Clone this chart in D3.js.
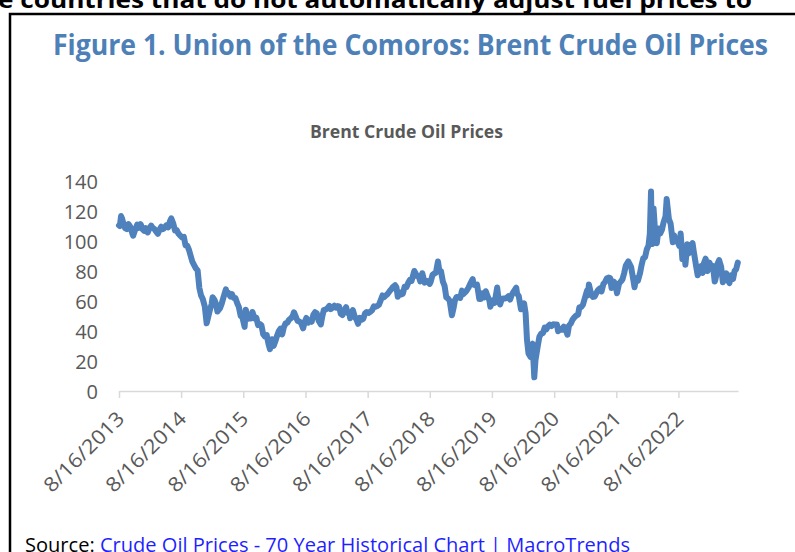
<!DOCTYPE html>
<html>
<head>
<meta charset="utf-8">
<script src="https://cdn.jsdelivr.net/npm/d3@7"></script>
<style>
  body { margin: 0; background: #fff; }
  svg { display: block; }
</style>
</head>
<body>
<svg id="chart" width="795" height="552"></svg>
<script>
// Brent daily close, sampled by eye from the reference: [month, day, price]
var y2013 = [[8,16,110.4],[8,21,110.0],[8,28,116.6],[9,3,115.0],[9,11,111.7],[9,21,108.6],[10,1,108.0],[10,11,111.3],[10,21,109.6],[11,1,105.5],[11,7,103.5],[11,21,108.1],[12,1,110.9],[12,11,108.7],[12,21,111.2]];
var y2014 = [[1,2,107.8],[1,11,106.8],[1,21,108.5],[2,1,105.7],[2,11,108.6],[2,21,110.3],[3,1,108.9],[3,11,108.1],[3,21,106.5],[4,1,104.8],[4,11,107.5],[4,21,109.5],[5,1,107.9],[5,11,108.9],[5,21,110.4],[6,1,109.1],[6,11,113.0],[6,19,115.1],[7,1,111.6],[7,11,107.0],[7,21,107.3],[8,1,104.8],[8,11,103.6],[8,21,102.5],[9,1,102.8],[9,11,97.0],[9,21,96.8],[10,1,94.2],[10,11,90.2],[10,21,86.2],[11,1,83.8],[11,11,81.7],[11,21,80.4],[12,1,68.8],[12,11,63.7],[12,21,61.4]];
var y2015 = [[1,2,56.4],[1,13,45.1],[1,21,48.8],[2,1,54.0],[2,11,57.8],[2,17,62.5],[3,1,60.5],[3,11,57.5],[3,17,53.0],[4,1,55.1],[4,11,58.1],[4,21,62.1],[5,6,67.8],[5,11,65.1],[5,21,65.5],[6,1,63.0],[6,11,64.5],[6,21,62.0],[7,1,62.0],[7,11,58.7],[7,21,56.1],[8,1,50.0],[8,11,49.1],[8,24,42.7],[8,31,54.2],[9,11,48.1],[9,21,48.5],[10,1,48.4],[10,9,52.7],[10,21,48.4],[11,1,48.8],[11,11,43.9],[11,21,44.7],[12,1,43.8],[12,11,37.9],[12,21,36.4]];
var y2016 = [[1,1,37.3],[1,11,31.6],[1,20,27.9],[2,1,34.5],[2,11,30.1],[2,21,33.3],[3,1,36.6],[3,11,39.7],[3,21,41.5],[4,1,37.7],[4,11,42.7],[4,21,45.1],[5,1,45.5],[5,11,47.5],[5,21,48.4],[6,1,49.7],[6,9,52.5],[6,24,48.4],[7,1,46.7],[7,11,46.3],[7,21,45.3],[8,2,41.8],[8,11,46.0],[8,21,48.7],[9,1,45.5],[9,11,47.3],[9,21,46.2],[10,1,50.9],[10,11,52.5],[10,21,51.8],[11,1,46.9],[11,14,44.4],[11,21,48.9],[12,1,53.9],[12,11,54.3],[12,21,54.9]];
var y2017 = [[1,3,56.8],[1,11,54.6],[1,21,55.5],[2,1,56.8],[2,11,55.6],[2,21,56.6],[3,1,56.4],[3,11,51.4],[3,21,50.6],[4,1,53.9],[4,11,55.9],[4,21,52.0],[5,1,51.5],[5,5,48.5],[5,21,53.9],[6,1,49.6],[6,11,47.7],[6,21,44.8],[7,1,48.8],[7,11,47.5],[7,21,48.1],[8,1,51.8],[8,11,52.7],[8,21,52.0],[9,1,52.8],[9,11,53.8],[9,21,56.4],[10,1,56.1],[10,11,56.6],[10,21,57.4],[11,1,60.6],[11,11,63.7],[11,21,62.6],[12,1,63.7],[12,11,64.7],[12,26,67.0]];
var y2018 = [[1,2,67.9],[1,11,69.3],[1,24,70.5],[2,1,69.2],[2,9,62.8],[2,21,65.8],[3,1,64.4],[3,11,64.9],[3,21,69.5],[4,1,69.3],[4,11,72.0],[4,21,74.1],[5,1,73.4],[5,17,80.0],[5,21,79.2],[6,1,76.8],[6,11,76.7],[6,21,73.1],[7,3,78.5],[7,17,72.2],[7,21,73.1],[8,1,73.3],[8,15,71.4],[8,21,72.6],[9,1,77.4],[9,11,78.3],[9,21,78.8],[10,3,86.3],[10,11,80.3],[10,21,79.8],[11,1,72.9],[11,11,70.1],[11,21,62.5],[12,1,61.7],[12,11,60.2],[12,24,50.5]];
var y2019 = [[1,2,54.9],[1,11,60.5],[1,21,62.7],[2,1,62.8],[2,11,62.1],[2,21,66.9],[3,1,64.6],[3,11,65.7],[3,21,67.0],[4,1,69.0],[4,11,71.6],[4,25,74.6],[5,1,70.8],[5,11,70.6],[5,21,70.9],[6,3,61.3],[6,11,61.3],[6,21,65.2],[7,1,62.4],[7,11,66.5],[7,21,63.3],[8,1,60.5],[8,7,56.2],[8,21,60.3],[9,1,58.7],[9,16,69.0],[9,21,64.2],[10,3,57.7],[10,11,60.5],[10,21,61.7],[11,1,61.7],[11,11,62.2],[11,21,63.2],[12,1,61.0],[12,11,64.2],[12,21,66.1]];
var y2020 = [[1,6,68.9],[1,11,64.9],[1,21,63.2],[2,3,54.5],[2,11,55.2],[2,21,58.5],[3,1,51.9],[3,9,34.4],[3,18,25.0],[3,30,22.8],[4,2,29.9],[4,11,31.5],[4,21,9.1],[4,28,20.5],[5,11,29.6],[5,21,36.1],[6,1,38.3],[6,11,38.6],[6,21,42.2],[7,1,41.2],[7,11,43.2],[7,21,44.3],[8,1,43.3],[8,11,44.5],[8,21,44.4],[9,1,44.4],[9,8,39.8],[9,21,41.4],[10,1,40.9],[10,11,42.9],[10,21,41.7],[11,2,37.5],[11,11,43.6],[11,21,44.9],[12,1,47.4],[12,11,48.9],[12,21,50.1]];
var y2021 = [[1,4,51.1],[1,11,55.9],[1,21,55.9],[2,1,57.5],[2,11,61.5],[2,25,67.0],[3,1,63.7],[3,8,71.0],[3,21,64.5],[4,1,62.7],[4,11,63.0],[4,21,65.4],[5,1,67.3],[5,11,68.3],[5,21,66.4],[6,1,71.4],[6,11,72.7],[6,21,75.0],[7,1,75.6],[7,11,75.2],[7,19,68.6],[8,1,72.9],[8,11,71.4],[8,20,65.2],[9,1,71.6],[9,11,72.9],[9,21,74.4],[10,1,78.5],[10,11,83.7],[10,25,86.4],[11,1,84.9],[11,11,82.6],[11,26,72.7],[12,1,69.2],[12,11,75.2],[12,21,73.5]];
var y2022 = [[1,3,78.9],[1,11,83.7],[1,21,88.4],[2,1,89.2],[2,11,94.4],[2,21,96.8],[3,1,105.0],[3,8,133.0],[3,11,112.7],[3,16,98.0],[3,23,121.6],[3,31,107.9],[4,11,98.5],[4,21,108.3],[5,1,105.0],[5,11,107.5],[5,21,112.6],[6,1,116.3],[6,8,128.0],[6,21,114.6],[7,1,111.6],[7,14,99.1],[7,21,103.9],[8,1,100.0],[8,11,99.6],[8,21,96.7],[8,29,105.0],[9,8,88.0],[9,21,90.8],[9,26,84.1],[10,7,97.9],[10,14,91.6],[10,21,93.5],[11,7,98.6],[11,14,93.1],[11,28,83.2],[12,7,77.2],[12,16,79.0],[12,28,83.3]];
var y2023 = [[1,5,78.7],[1,13,85.3],[1,23,88.2],[2,3,79.9],[2,14,85.6],[2,24,83.2],[3,7,83.3],[3,17,73.0],[3,20,73.8],[3,31,79.8],[4,3,84.9],[4,12,87.3],[4,24,82.7],[5,4,72.5],[5,15,75.2],[5,24,78.4],[6,1,74.3],[6,12,72.0],[6,21,77.1],[7,3,74.7],[7,12,80.1],[7,21,81.1],[7,31,85.6]];

var years = [2013, 2014, 2015, 2016, 2017, 2018, 2019, 2020, 2021, 2022, 2023];
var yearData = [y2013, y2014, y2015, y2016, y2017, y2018, y2019, y2020, y2021, y2022, y2023];

var xTickLabels = ['8/16/2013', '8/16/2014', '8/16/2015', '8/16/2016', '8/16/2017',
  '8/16/2018', '8/16/2019', '8/16/2020', '8/16/2021', '8/16/2022'];
var yTicks = [0, 20, 40, 60, 80, 100, 120, 140];

var points = [];
yearData.forEach(function(rows, i) {
  rows.forEach(function(r) {
    points.push({ date: new Date(years[i], r[0] - 1, r[1]), value: r[2] });
  });
});

var svg = d3.select('#chart');
var blue = '#4F81BD';
var grey = '#595959';

var x = d3.scaleTime()
  .domain([new Date(2013, 7, 16), new Date(2023, 7, 1)])
  .range([119, 738]);
var y = d3.scaleLinear().domain([0, 140]).range([391, 181]);

// heading text cut off at the top of the page
svg.append('text')
  .attr('x', -2)
  .attr('y', 8)
  .attr('textLength', 754)
  .attr('lengthAdjust', 'spacingAndGlyphs')
  .style('font', 'bold 24px "Open Sans", sans-serif')
  .style('fill', '#000')
  .text('e countries that do not automatically adjust fuel prices to');

// box frame
svg.append('path')
  .attr('d', 'M10,552V14H800')
  .attr('fill', 'none')
  .attr('stroke', '#000')
  .attr('stroke-width', 2.5);

svg.append('text')
  .attr('x', 53)
  .attr('y', 55)
  .attr('textLength', 715)
  .attr('lengthAdjust', 'spacingAndGlyphs')
  .style('font', 'bold 28px "Open Sans", sans-serif')
  .style('fill', '#4E80B8')
  .text('Figure 1. Union of the Comoros: Brent Crude Oil Prices');

svg.append('text')
  .attr('x', 310)
  .attr('y', 138)
  .attr('textLength', 193)
  .attr('lengthAdjust', 'spacingAndGlyphs')
  .style('font', 'bold 17px "Open Sans", sans-serif')
  .style('fill', grey)
  .text('Brent Crude Oil Prices');

// y axis, labels only
var yAxis = svg.append('g')
  .attr('transform', 'translate(98,0)')
  .call(d3.axisLeft(y).tickValues(yTicks).tickSize(0).tickPadding(0));
yAxis.select('.domain').remove();
yAxis.selectAll('text')
  .attr('dy', '0.36em')
  .style('font', '20px "Open Sans", sans-serif')
  .style('fill', grey);

// x axis
var xAxis = svg.append('g')
  .attr('transform', 'translate(0,391)')
  .call(d3.axisBottom(x)
    .tickValues(xTickLabels.map(function(d, i) { return new Date(years[i], 7, 16); }))
    .tickFormat(function(d, i) { return xTickLabels[i]; })
    .tickSize(7)
    .tickSizeOuter(0));
xAxis.select('.domain').attr('stroke', '#d9d9d9').attr('stroke-width', 1.5);
xAxis.selectAll('.tick line').attr('stroke', '#d9d9d9').attr('stroke-width', 1.5);
xAxis.selectAll('.tick text')
  .attr('x', 0)
  .attr('y', 0)
  .attr('dy', 0)
  .attr('text-anchor', 'end')
  .attr('textLength', 104)
  .attr('lengthAdjust', 'spacingAndGlyphs')
  .attr('transform', 'translate(6,29) rotate(-45)')
  .style('font', '20px "Open Sans", sans-serif')
  .style('fill', grey);

var line = d3.line()
  .x(function(d) { return x(d.date); })
  .y(function(d) { return y(d.value); });

svg.append('path')
  .datum(points)
  .attr('d', line)
  .attr('fill', 'none')
  .attr('stroke', blue)
  .attr('stroke-width', 6)
  .attr('stroke-linejoin', 'round')
  .attr('stroke-linecap', 'round');

var source = svg.append('text')
  .attr('x', 25)
  .attr('y', 552)
  .attr('textLength', 605)
  .attr('lengthAdjust', 'spacingAndGlyphs')
  .style('font', '20px "Open Sans", sans-serif');
source.append('tspan').style('fill', '#000').text('Source: ');
source.append('tspan').style('fill', '#1F1FFF').text('Crude Oil Prices - 70 Year Historical Chart | MacroTrends');
</script>
</body>
</html>
